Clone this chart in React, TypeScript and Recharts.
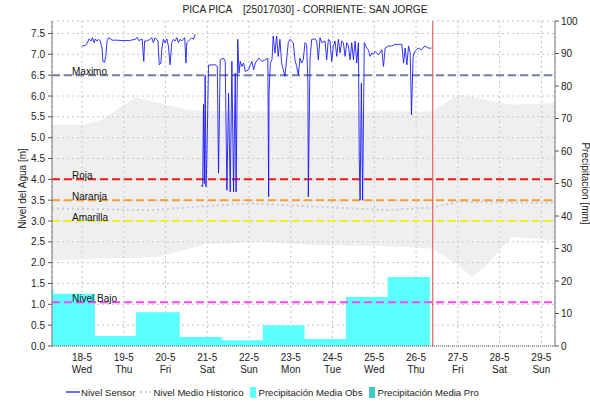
import React from 'react';
import { ComposedChart, Line, Area, XAxis, YAxis, CartesianGrid, ReferenceLine } from 'recharts';

// ---- tick labels ----
const dayTicks = [0, 1, 2, 3, 4, 5, 6, 7, 8, 9, 10, 11];
const dayLabels = ['18-5', '19-5', '20-5', '21-5', '22-5', '23-5', '24-5', '25-5', '26-5', '27-5', '28-5', '29-5'];
const weekdayLabels = ['Wed', 'Thu', 'Fri', 'Sat', 'Sun', 'Mon', 'Tue', 'Wed', 'Thu', 'Fri', 'Sat', 'Sun'];
const levelTicks = [0, 0.5, 1, 1.5, 2, 2.5, 3, 3.5, 4, 4.5, 5, 5.5, 6, 6.5, 7, 7.5];
const precipTicks = [0, 10, 20, 30, 40, 50, 60, 70, 80, 90, 100];

// ---- Nivel Sensor (days since 18-5, level m) ----
const sensorDays = [
  0.00, 0.08, 0.12, 0.17, 0.22, 0.25, 0.29, 0.32, 0.36, 0.40, 0.44, 0.48, 0.50, 0.54, 0.57, 0.60, 0.64, 0.72, 0.84, 0.96,
  1.12, 1.28, 1.32, 1.36, 1.44, 1.48, 1.50, 1.55, 1.63, 1.67, 1.71, 1.75, 1.82, 1.85, 1.89, 1.91, 1.95, 1.99, 2.03, 2.07,
  2.11, 2.15, 2.19, 2.23, 2.27, 2.31, 2.35, 2.39, 2.46, 2.49, 2.51, 2.55, 2.59, 2.63, 2.67, 2.71,
  2.78,
  2.85, 2.89, 2.91, 2.93, 2.95, 2.97, 2.99, 3.03, 3.19, 3.24, 3.27, 3.31, 3.39, 3.43, 3.47, 3.51, 3.55, 3.59, 3.63, 3.67,
  3.69, 3.73, 3.76, 3.79, 3.83, 3.87, 3.91, 3.99, 4.03, 4.07, 4.11, 4.15, 4.23, 4.31, 4.39, 4.45, 4.47, 4.48, 4.51, 4.55,
  4.58, 4.62, 4.66, 4.70, 4.74, 4.78, 4.82, 4.86, 4.90, 4.94, 4.98, 5.02, 5.06, 5.10, 5.14, 5.18, 5.22, 5.26, 5.30, 5.34,
  5.38, 5.41, 5.42, 5.46, 5.50, 5.58, 5.62, 5.66, 5.70, 5.74, 5.82, 5.86, 5.90, 5.94, 5.98, 6.02, 6.06, 6.10, 6.14, 6.18,
  6.22, 6.26, 6.30, 6.34, 6.38, 6.42, 6.46, 6.50, 6.54, 6.58, 6.62, 6.64, 6.66, 6.69, 6.72, 6.76, 6.82, 6.86, 6.90, 6.94,
  6.98, 7.02, 7.10, 7.18, 7.22, 7.26, 7.34, 7.42, 7.50, 7.58, 7.66, 7.70, 7.74, 7.78, 7.82, 7.86, 7.89, 7.93, 7.97, 8.01,
  8.05, 8.13, 8.21, 8.29, 8.37,
];
const sensorLevels = [
  7.20, 7.21, 7.26, 7.37, 7.32, 7.40, 7.28, 7.37, 7.32, 7.36, 7.32, 7.15, 6.83, 6.81, 6.95, 7.32, 7.40, 7.34, 7.34, 7.33,
  7.33, 7.36, 7.41, 7.33, 7.37, 6.83, 7.32, 7.32, 7.36, 7.40, 7.28, 7.40, 7.32, 6.75, 6.79, 7.11, 7.36, 7.28, 7.37, 7.20,
  6.75, 7.28, 7.36, 7.32, 7.40, 7.28, 7.36, 7.32, 7.40, 6.79, 7.28, 7.32, 7.36, 7.40, 7.36, 7.48,
  null,
  3.86, 3.82, 5.80, 3.90, 6.50, 3.82, 4.50, 6.74, 6.75, 6.71, 4.15, 6.87, 6.91, 6.83, 3.74, 6.07, 3.70, 6.83, 3.70, 6.55,
  3.70, 7.36, 6.55, 6.83, 6.71, 6.79, 6.59, 6.63, 6.75, 6.83, 6.63, 6.79, 6.91, 6.83, 6.87, 6.91, 3.58, 6.07, 6.79, 6.87,
  7.44, 7.03, 7.44, 6.95, 7.36, 6.79, 6.63, 6.47, 6.87, 7.28, 7.36, 7.32, 7.28, 6.87, 6.71, 6.51, 6.91, 6.79, 6.87, 7.28,
  7.24, 6.31, 3.58, 6.87, 7.36, 7.37, 7.32, 6.87, 7.40, 7.28, 7.32, 6.87, 7.36, 7.32, 6.83, 7.20, 7.32, 6.95, 7.36, 7.03,
  7.32, 7.28, 6.95, 7.28, 7.20, 6.87, 7.28, 6.87, 7.32, 6.79, 7.28, 4.47, 3.50, 6.31, 3.50, 7.28, 7.15, 7.10, 6.95, 7.03,
  7.00, 7.07, 6.99, 7.11, 6.71, 7.15, 7.20, 7.20, 7.24, 7.24, 7.24, 6.79, 7.15, 6.75, 7.20, 7.03, 5.55, 6.95, 7.07, 7.11,
  7.15, 7.11, 7.20, 7.15, 7.15,
];

// ---- historic range band and mean ----
const bandDays = [-0.72, 0.0, 0.48, 1.28, 1.83, 2.63, 3.0, 4.23, 5.66, 7.26, 8.37, 9.01, 9.33, 9.65, 10.29, 11.34];
const bandLow = [2.06, 2.08, 2.1, 2.12, 2.14, 2.35, 2.45, 2.5, 2.42, 2.4, 2.34, 1.95, 1.66, 1.9, 2.62, 2.54];
const bandHigh = [5.31, 5.31, 5.43, 5.97, 5.83, 5.65, 5.64, 5.63, 5.63, 5.63, 5.63, 6.03, 5.99, 5.91, 5.79, 5.83];
const histDays = [-0.72, 1.68, 2.99, 4.07, 4.86, 6.46, 7.26, 8.37, 9.01, 11.34];
const histLevels = [3.3, 3.26, 3.36, 3.42, 3.38, 3.3, 3.26, 3.32, 3.46, 3.44];

// ---- precipitation (mm), step starts ----
const precipDays = [-0.72, -0.68, 0.31, 1.29, 2.34, 3.35, 4.33, 5.33, 6.32, 7.32, 8.33];
const precipMm = [17.6, 16.1, 3.1, 10.4, 2.8, 1.8, 6.35, 2.15, 15.05, 21.2, 21.2];

// ---- thresholds ----
const thresholdNames = ['Maximo', 'Roja', 'Naranja', 'Amarilla', 'Nivel Bajo'];
const thresholdLevels = [6.5, 4.0, 3.5, 3.0, 1.05];
const thresholdColors = ['#6f7fa6', '#f01818', '#f5a030', '#f2f025', '#ff44ff'];
const nowDay = 8.4;

const sensorData = sensorDays.map((d, i) => ({ day: d, level: sensorLevels[i] }));
const bandData = bandDays.map((d, i) => ({ day: d, range: [bandLow[i], bandHigh[i]] }));
const histData = histDays.map((d, i) => ({ day: d, mean: histLevels[i] }));
const precipData = precipDays.map((d, i) => ({ day: d, mm: precipMm[i] }));

const FONT = '"Liberation Sans", Arial, sans-serif';
const TXT = '#222';

const DayTick = (props: any) => {
  const { x, y, payload } = props;
  const i = dayTicks.indexOf(payload.value);
  return (
    <g>
      <text x={x} y={y + 13} textAnchor="middle" fontSize={10} fontFamily={FONT} fill={TXT}>{dayLabels[i]}</text>
      <text x={x} y={y + 25} textAnchor="middle" fontSize={10} fontFamily={FONT} fill={TXT}>{weekdayLabels[i]}</text>
    </g>
  );
};

const makeLabel = (name: string) => (props: any) => {
  const vb = props.viewBox || {};
  return (
    <text x={(vb.x || 0) + 20} y={(vb.y || 0) + 0} fontSize={10} fontFamily={FONT} fill="#111">{name}</text>
  );
};

const LeftLabel = (props: any) => {
  const vb = props.viewBox || {};
  const cx = 22;
  const cy = (vb.y || 0) + (vb.height || 0) / 2 + 5;
  return (
    <text x={cx} y={cy} transform={`rotate(-90, ${cx}, ${cy})`} textAnchor="middle" dominantBaseline="central" fontSize={10} fontFamily={FONT} fill={TXT}>Nivel del Agua [m]</text>
  );
};

const RightLabel = (props: any) => {
  const vb = props.viewBox || {};
  const cx = 585;
  const cy = (vb.y || 0) + (vb.height || 0) / 2;
  return (
    <text x={cx} y={cy} transform={`rotate(90, ${cx}, ${cy})`} textAnchor="middle" dominantBaseline="central" fontSize={10} fontFamily={FONT} fill={TXT}>Precipitacion [mm]</text>
  );
};

const legendText: React.CSSProperties = { fontSize: 9.6, fontFamily: FONT, color: TXT, whiteSpace: 'pre' };

export default function App() {
  return (
    <div style={{ position: 'absolute', left: 0, top: 0, width: 590, height: 404, background: '#fff' }}>
      <ComposedChart width={590} height={404} margin={{ top: 21, right: 0, bottom: 28, left: 0 }}>
        <CartesianGrid yAxisId="left" stroke="#c4c4c4" strokeDasharray="2 3" />
        <XAxis
          dataKey="day"
          type="number"
          domain={[-0.718, 11.327]}
          ticks={dayTicks}
          allowDataOverflow
          height={30}
          tick={<DayTick />}
          tickLine={false}
          tickSize={0}
          axisLine={{ stroke: '#555', strokeDasharray: '1 1' }}
          interval={0}
        />
        <YAxis
          yAxisId="left"
          orientation="left"
          width={52}
          domain={[0, 7.8]}
          ticks={levelTicks}
          allowDataOverflow
          tickFormatter={(v: number) => v.toFixed(1)}
          tick={{ fontSize: 10, fontFamily: FONT, fill: TXT }}
          tickSize={4}
          tickMargin={3}
          tickLine={{ stroke: '#555' }}
          axisLine={{ stroke: '#777' }}
          interval={0}
          label={<LeftLabel />}
        />
        <YAxis
          yAxisId="right"
          orientation="right"
          width={35}
          domain={[0, 100]}
          ticks={precipTicks}
          allowDataOverflow
          tick={{ fontSize: 10, fontFamily: FONT, fill: TXT }}
          tickSize={4}
          tickMargin={2}
          tickLine={{ stroke: '#555' }}
          axisLine={{ stroke: '#777' }}
          interval={0}
          label={<RightLabel />}
        />
        <Area
          yAxisId="left"
          data={bandData}
          dataKey="range"
          type="linear"
          stroke="none"
          fill="#d6d6d6"
          fillOpacity={0.4}
          isAnimationActive={false}
          dot={false}
          activeDot={false}
        />
        <Area
          yAxisId="right"
          data={precipData}
          dataKey="mm"
          type="stepAfter"
          stroke="none"
          fill="#5cffff"
          fillOpacity={1}
          isAnimationActive={false}
          dot={false}
          activeDot={false}
        />
        <Line
          yAxisId="left"
          data={histData}
          dataKey="mean"
          type="linear"
          stroke="#cccccc"
          strokeWidth={2}
          strokeDasharray="2 3"
          dot={false}
          activeDot={false}
          isAnimationActive={false}
        />
        {thresholdLevels.map((lv, i) => (
          <ReferenceLine
            key={thresholdNames[i]}
            yAxisId="left"
            y={lv}
            stroke={thresholdColors[i]}
            strokeWidth={2}
            strokeDasharray="8 4"
            label={makeLabel(thresholdNames[i])}
          />
        ))}
        <Line
          yAxisId="left"
          data={sensorData}
          dataKey="level"
          type="linear"
          stroke="#1010ff"
          strokeWidth={1}
          strokeOpacity={0.85}
          connectNulls={false}
          dot={false}
          activeDot={false}
          isAnimationActive={false}
        />
        <ReferenceLine yAxisId="left" x={nowDay} stroke="#e04848" strokeWidth={1} />
      </ComposedChart>
      <div style={{ position: 'absolute', left: 0, width: 610, top: 4, textAlign: 'center', fontSize: 10.2, fontFamily: FONT, color: TXT, whiteSpace: 'pre' }}>
        {'PICA PICA    [25017030] - CORRIENTE: SAN JORGE'}
      </div>
      <div style={{ position: 'absolute', left: 66, top: 385, display: 'flex', alignItems: 'center', height: 14 }}>
        <svg width={14} height={10} style={{ marginRight: 1 }}><line x1={0} y1={5} x2={14} y2={5} stroke="#1010ff" strokeWidth={1.2} /></svg>
        <span style={legendText}>Nivel Sensor</span>
        <svg width={11} height={10} style={{ marginLeft: 5, marginRight: 2 }}><line x1={0} y1={5} x2={11} y2={5} stroke="#cccccc" strokeWidth={2} strokeDasharray="2 3" /></svg>
        <span style={legendText}>Nivel Medio Historico</span>
        <svg width={6} height={11} style={{ marginLeft: 6, marginRight: 3 }}><rect x={0} y={0} width={6} height={11} fill="#5cffff" /></svg>
        <span style={legendText}>Precipitación Media Obs</span>
        <svg width={6} height={11} style={{ marginLeft: 7, marginRight: 2 }}><rect x={0} y={0} width={6} height={11} fill="#40c8c8" /></svg>
        <span style={legendText}>Precipitación Media Pro</span>
      </div>
    </div>
  );
}
